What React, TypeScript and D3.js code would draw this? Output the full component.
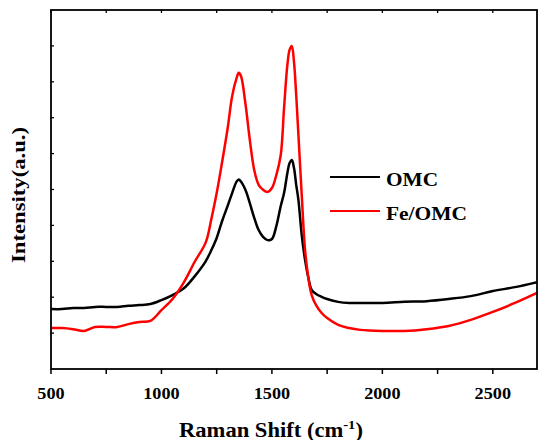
import React from "react";
import * as d3 from "d3";

const ramanShift = [500, 550, 600, 650, 700, 750, 800, 850, 900, 950, 1000, 1050, 1100, 1150, 1200, 1225, 1250, 1275, 1300, 1320, 1340, 1350, 1360, 1380, 1400, 1420, 1440, 1460, 1480, 1500, 1520, 1540, 1555, 1570, 1580, 1590, 1600, 1610, 1620, 1635, 1650, 1665, 1680, 1700, 1725, 1750, 1800, 1850, 1900, 2000, 2100, 2200, 2300, 2400, 2500, 2600, 2700];

const omc = [167, 167, 170, 170, 173, 173, 173, 176, 178, 181, 192, 206, 224, 258, 300, 330, 365, 413, 455, 490, 522, 528, 522, 499, 462, 421, 387, 368, 359, 362, 398, 454, 490, 546, 574, 582, 560, 513, 471, 373, 304, 254, 220, 209, 201, 195, 187, 184, 184, 184, 187, 189, 195, 203, 217, 228, 242];

const feOmc = [114, 114, 111, 106, 117, 117, 117, 125, 131, 134, 164, 195, 240, 298, 352, 415, 490, 578, 672, 760, 810, 825, 816, 740, 638, 554, 513, 499, 493, 504, 540, 596, 727, 847, 889, 900, 855, 763, 652, 485, 332, 254, 206, 178, 156, 142, 123, 114, 109, 106, 106, 111, 120, 137, 159, 184, 212];

const seriesNames = ["OMC", "Fe/OMC"];
const seriesColors = ["#000000", "#ff0000"];
const xTicks = [500, 750, 1000, 1250, 1500, 1750, 2000, 2250, 2500];
const xTickLabels = ["500", "", "1000", "", "1500", "", "2000", "", "2500"];
const yTicks = [100, 200, 300, 400, 500, 600, 700, 800, 900];

const W = 538, H = 440;
const L = 51, T = 10, R = 537, B = 369;
const FONT = "'Liberation Serif', 'Times New Roman', serif";

export default function App() {
  const x = d3.scaleLinear().domain([500, 2700]).range([L, R]);
  const y = d3.scaleLinear().domain([0, 1000]).range([B, T]);
  const series = [omc, feOmc];
  const line = d3
    .line<number>()
    .x((_, i) => x(ramanShift[i]))
    .y((d) => y(d))
    .curve(d3.curveCatmullRom.alpha(0.5));

  return (
    <svg width={W} height={H} style={{ position: "absolute", left: 0, top: 0, background: "#fff" }}>
      <rect x={0} y={0} width={W} height={H} fill="#fff" />
      <defs>
        <clipPath id="plot">
          <rect x={L} y={T} width={R - L} height={B - T} />
        </clipPath>
      </defs>
      <g clipPath="url(#plot)">
        {series.map((s, k) => (
          <path key={k} d={line(s) || ""} fill="none" stroke={seriesColors[k]} strokeWidth={2.5} strokeLinejoin="round" />
        ))}
      </g>
      <rect x={L} y={T} width={R - L} height={B - T} fill="none" stroke="#000" strokeWidth={1.8} />
      {xTicks.map((t, i) => (
        <g key={"bx" + i}>
          <line x1={x(t)} x2={x(t)} y1={B} y2={B + 5} stroke="#000" strokeWidth={1.5} />
          <line x1={x(t)} x2={x(t)} y1={T} y2={T + 3} stroke="#000" strokeWidth={1.3} />
          {xTickLabels[i] && (
            <text
              x={x(t)}
              y={399}
              textAnchor="middle"
              fontFamily={FONT}
              fontWeight="bold"
              fontSize={16}
              textLength={xTickLabels[i].length * 9.1}
              lengthAdjust="spacingAndGlyphs"
            >
              {xTickLabels[i]}
            </text>
          )}
        </g>
      ))}
      {yTicks.map((t, i) => (
        <line key={"yt" + i} x1={L} x2={L + 3} y1={y(t)} y2={y(t)} stroke="#000" strokeWidth={1.3} />
      ))}
      <text
        x={179}
        y={437}
        fontFamily={FONT}
        fontWeight="bold"
        fontSize={20}
        textLength={184}
        lengthAdjust="spacingAndGlyphs"
      >
        Raman Shift (cm<tspan dy={-8} fontSize={13}>-1</tspan><tspan dy={8}>)</tspan>
      </text>
      <text
        transform={`translate(25,195) rotate(-90)`}
        textAnchor="middle"
        fontFamily={FONT}
        fontWeight="bold"
        fontSize={18}
        textLength={136}
        lengthAdjust="spacingAndGlyphs"
      >
        Intensity(a.u.)
      </text>
      {seriesNames.map((n, k) => {
        const ly = k === 0 ? 177 : 211;
        return (
          <g key={"lg" + k}>
            <line x1={330} x2={380} y1={ly} y2={ly} stroke={seriesColors[k]} strokeWidth={2} />
            <text
              x={386}
              y={ly + 9}
              fontFamily={FONT}
              fontWeight="bold"
              fontSize={19}
              textLength={k === 0 ? 52 : 81}
              lengthAdjust="spacingAndGlyphs"
            >
              {n}
            </text>
          </g>
        );
      })}
    </svg>
  );
}
